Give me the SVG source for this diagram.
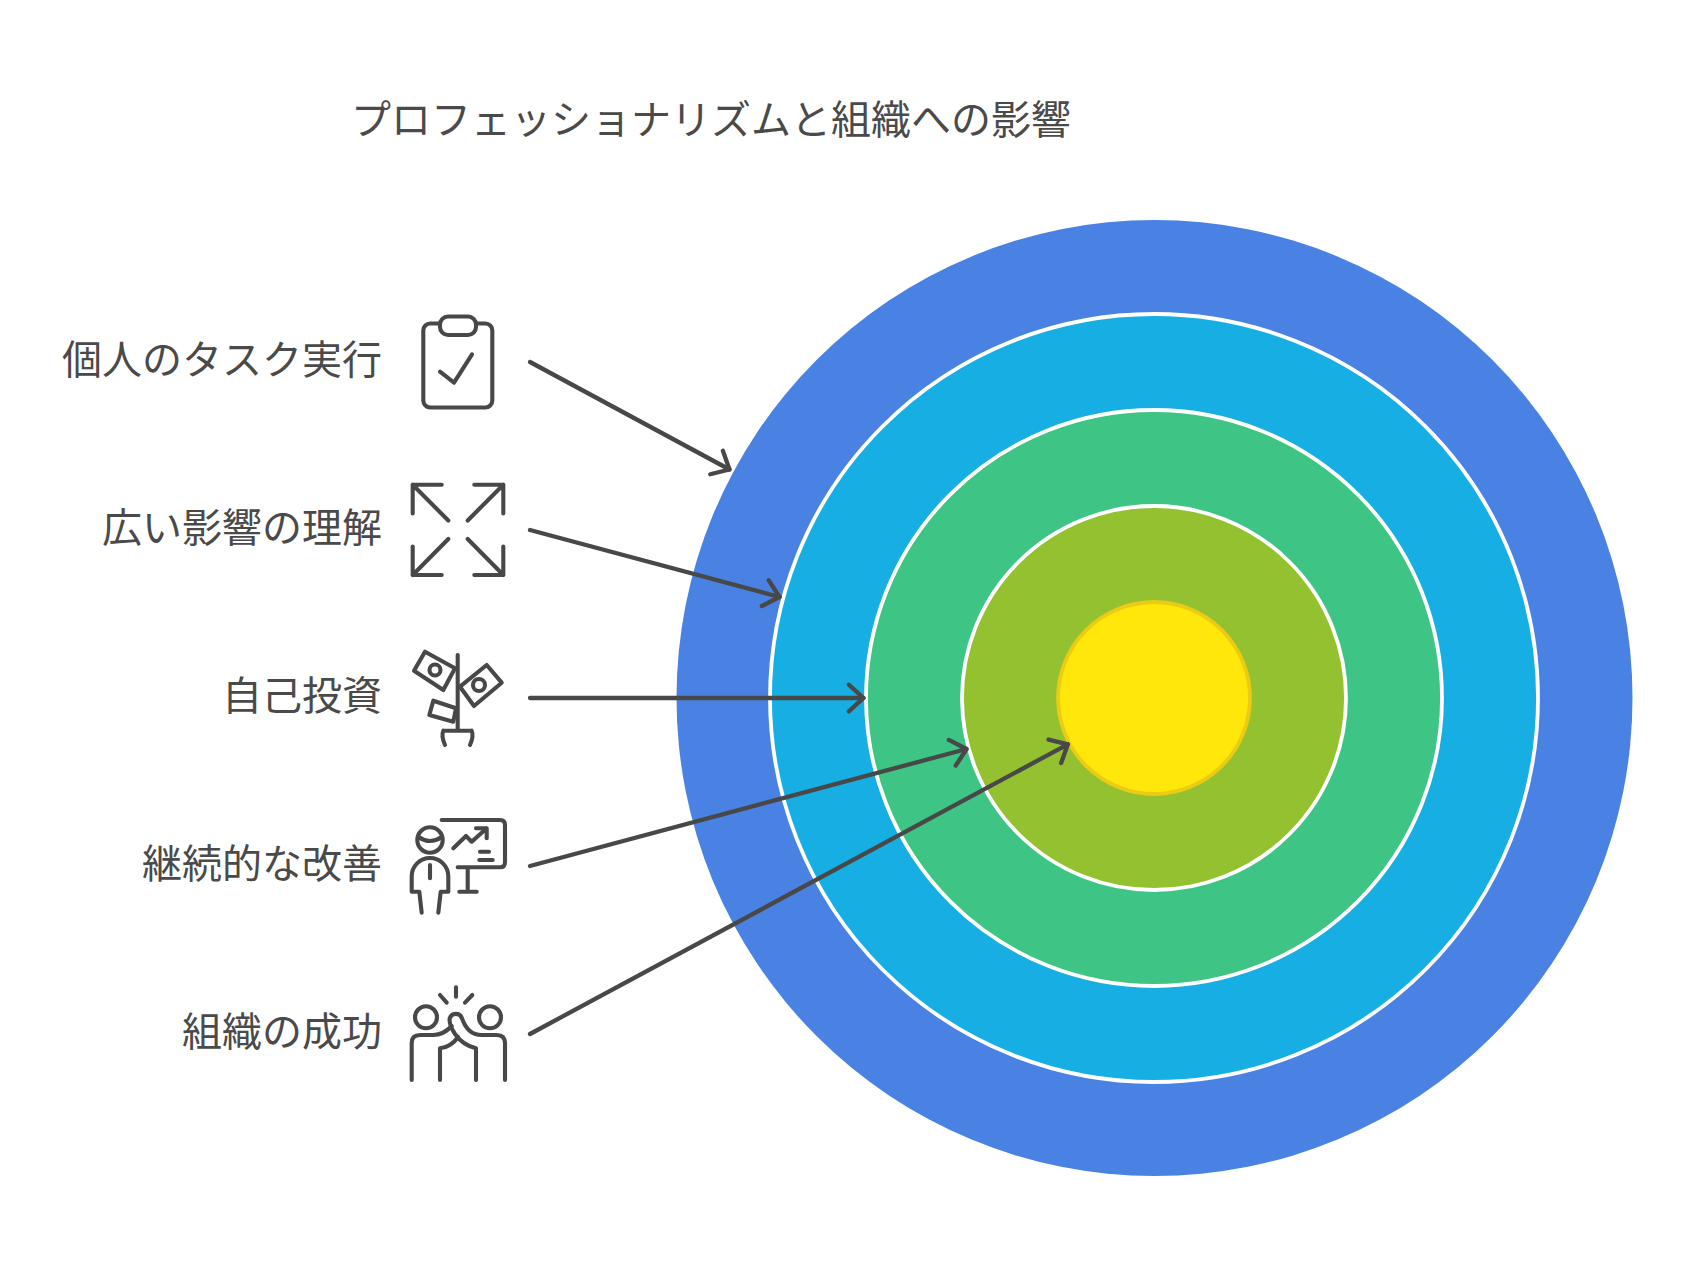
<svg xmlns="http://www.w3.org/2000/svg" width="1684" height="1276" viewBox="0 0 1684 1276">
<style>
text{font-family:"Noto Sans CJK JP","Noto Sans",sans-serif;font-size:40px;fill:#4a4a4a}
.l{text-anchor:end}
.ic{fill:none;stroke:#484848;stroke-width:4.1;stroke-linecap:round;stroke-linejoin:round}
.c{fill:none;stroke:#484848;stroke-width:4.3;stroke-linecap:round;marker-end:url(#a)}
.w{stroke:#fff;stroke-width:3.8}
</style>
<defs><marker id="a" markerUnits="userSpaceOnUse" markerWidth="24" markerHeight="34" refX="20" refY="17" orient="auto" viewBox="0 0 24 34"><path d="M5.3 3.7L20 17L5.3 30.3" fill="none" stroke="#484848" stroke-width="4.3" stroke-linecap="round" stroke-linejoin="round"/></marker></defs>
<rect width="1684" height="1276" fill="#fff"/>
<g id="title"><text x="351" y="134">プロフェッショナリズムと組織への影響</text></g>
<g id="rings">
<circle id="ring1" cx="1154.5" cy="698" r="478" fill="#4a82e3"/>
<circle id="ring2" class="w" cx="1154" cy="698" r="384" fill="#17afe3"/>
<circle id="ring3" class="w" cx="1154" cy="698" r="288" fill="#3ec484"/>
<circle id="ring4" class="w" cx="1154" cy="698" r="192" fill="#94c130"/>
<circle id="ring5" cx="1154" cy="698" r="96" fill="#ffe60b" stroke="#e9cc13" stroke-width="3.8"/>
</g>
<g id="n1"><text class="l" x="382" y="374">個人のタスク実行</text>
<g class="ic"><rect x="423.3" y="323.5" width="69" height="84" rx="7"/><rect x="440" y="316.5" width="36" height="18.5" rx="8" fill="#fff"/><path d="M440 371.7L454 382.7L472 354.3"/></g></g>
<g id="n2"><text class="l" x="382" y="542">広い影響の理解</text>
<g class="ic"><path d="M412.7 513.5V484.7H441.7M412.7 484.7L448.3 520.5M503.3 513.5V484.7H474.3M503.3 484.7L467.7 520.5M412.7 546.5V575H441.7M412.7 575L448.3 539M503.3 546.5V575H474.3M503.3 575L467.7 539"/></g></g>
<g id="n3"><text class="l" x="382" y="710">自己投資</text>
<g class="ic"><path d="M457.7 655V730.7M443.3 730.7H471.7M443.3 730.7Q441 736 445 745M471.7 730.7Q474 736 470 745"/><path d="M425 651.7L455 668.3L443.3 690L414 670.7Z"/><circle cx="435" cy="670" r="5.5"/><path d="M486.7 665L501.7 682.7L474 706L460 686.7Z"/><circle cx="479" cy="685" r="6"/><path d="M433.3 700.7L456 708.3L453.3 721.7L429.3 715Z"/></g></g>
<g id="n4"><text class="l" x="382" y="878">継続的な改善</text>
<g class="ic"><path d="M441.7 820H500Q505 820 505 825V862Q505 867.3 500 867.3H457.7M467.7 867.3V891.7M459.3 891.7H476.7M453.3 848.3L466 836L471.7 841.7L486.7 828.3M476 828.3H486.7V838.3M480 851.7H489M479.3 860H492.7"/><circle cx="430" cy="840" r="12.7"/><path d="M418.5 837Q430 845 441.7 837M421.7 912.7L419.3 891.7H411.7V876.3A18.3 18.3 0 0 1 448.3 876.3V891.7H440.7L438.3 912.7M430 865V878.3"/></g></g>
<g id="n5"><text class="l" x="382" y="1046">組織の成功</text>
<g class="ic"><path d="M456 987.3V996.7M440 995L446.7 1002.7M472.3 995L465 1002.7"/><circle cx="426" cy="1017.3" r="11"/><circle cx="490" cy="1017.3" r="11"/><path d="M411.7 1080V1043.3Q411.7 1035 420 1035H433.3C441 1035 447 1031 451.7 1026"/><path d="M476 1080V1048.3C466 1046 460 1041 455 1034C451 1028 449 1023 449.7 1018.3A6.5 6.5 0 0 1 462 1018.3C466 1030 472 1035 481.7 1035H496.7Q505 1035 505 1043.3V1080"/><path d="M440 1080V1048.3C447 1048 454 1043 458 1037"/></g></g>
<g id="connectors">
<path class="c" d="M530 362L729.5 469.5"/>
<path class="c" d="M530 530L779.5 597"/>
<path class="c" d="M530 698H863.5"/>
<path class="c" d="M530 866L966.5 749"/>
<path class="c" d="M530 1034L1067.8 744.3"/>
</g>
</svg>
